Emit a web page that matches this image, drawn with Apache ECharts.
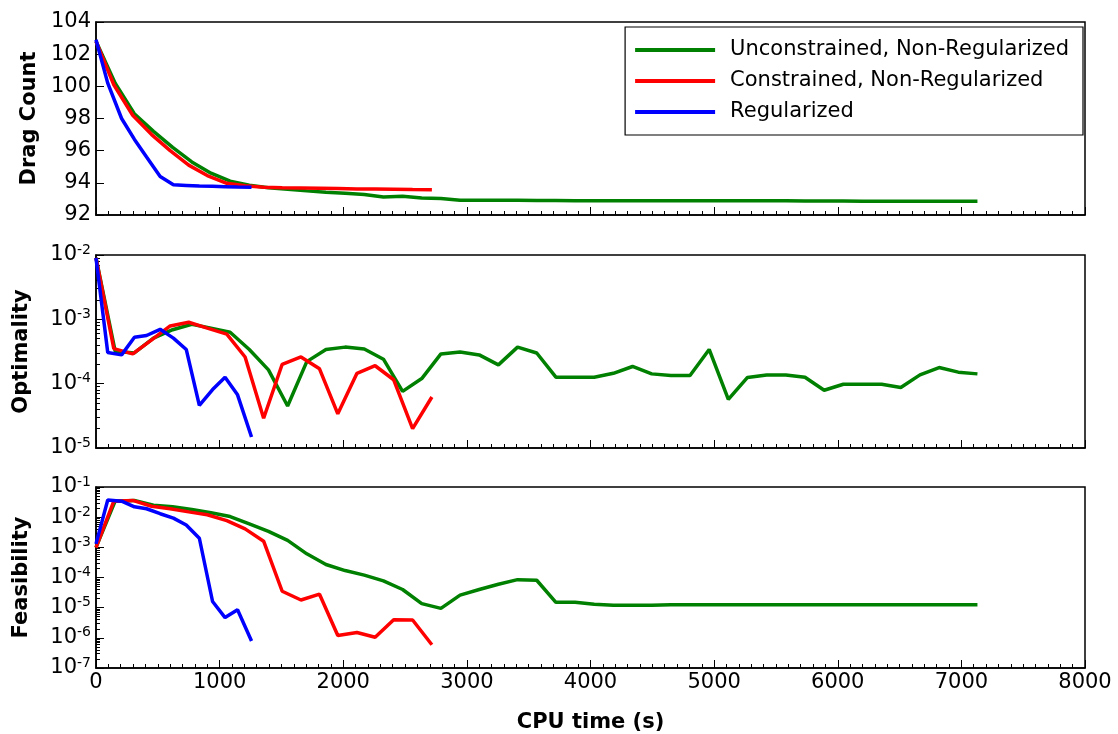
<!DOCTYPE html>
<html>
<head>
<meta charset="utf-8">
<script src="https://cdn.jsdelivr.net/npm/echarts@6/dist/echarts.min.js"></script>
<style>
html,body{margin:0;padding:0;background:#fff;}
#chart{width:1118px;height:734px;}
</style>
</head>
<body>
<div id="chart"></div>
<script>
// ---- Data ----
const seriesNames = ['Unconstrained, Non-Regularized', 'Constrained, Non-Regularized', 'Regularized'];
const seriesColors = ['#008000', '#ff0000', '#0000ff'];

const xTicks = [0, 1000, 2000, 3000, 4000, 5000, 6000, 7000, 8000];

// Unconstrained, Non-Regularized (green)
const greenTime = [0, 155, 310, 465, 620, 775, 930, 1085, 1240, 1395, 1550, 1705, 1860, 2015, 2170, 2325, 2480, 2635, 2790, 2945, 3100, 3255, 3410, 3565, 3720, 3875, 4030, 4185, 4340, 4495, 4650, 4805, 4960, 5115, 5270, 5425, 5580, 5735, 5890, 6045, 6200, 6355, 6510, 6665, 6820, 6975, 7130];
const greenDrag = [102.8, 100.2, 98.3, 97.2, 96.2, 95.3, 94.6, 94.1, 93.85, 93.7, 93.6, 93.5, 93.42, 93.35, 93.28, 93.12, 93.16, 93.05, 93.03, 92.92, 92.92, 92.91, 92.91, 92.9, 92.9, 92.89, 92.89, 92.88, 92.88, 92.88, 92.88, 92.88, 92.88, 92.88, 92.88, 92.88, 92.88, 92.87, 92.87, 92.87, 92.86, 92.86, 92.85, 92.85, 92.85, 92.85, 92.85];
const greenOpt = [9e-3, 3.2e-4, 3.0e-4, 5.1e-4, 6.9e-4, 8.4e-4, 7.3e-4, 6.3e-4, 3.4e-4, 1.64e-4, 4.5e-5, 2.2e-4, 3.4e-4, 3.7e-4, 3.45e-4, 2.4e-4, 7.6e-5, 1.2e-4, 2.9e-4, 3.1e-4, 2.8e-4, 1.96e-4, 3.7e-4, 3.0e-4, 1.26e-4, 1.26e-4, 1.26e-4, 1.45e-4, 1.85e-4, 1.42e-4, 1.34e-4, 1.34e-4, 3.4e-4, 5.7e-5, 1.25e-4, 1.36e-4, 1.36e-4, 1.26e-4, 7.9e-5, 9.8e-5, 9.8e-5, 9.8e-5, 8.7e-5, 1.37e-4, 1.78e-4, 1.51e-4, 1.42e-4];
const greenFeas = [1e-3, 3.4e-2, 3.6e-2, 2.5e-2, 2.2e-2, 1.8e-2, 1.4e-2, 1.05e-2, 6.0e-3, 3.4e-3, 1.7e-3, 6.1e-4, 2.7e-4, 1.7e-4, 1.2e-4, 7.7e-5, 4.0e-5, 1.36e-5, 9.5e-6, 2.6e-5, 4.0e-5, 6.0e-5, 8.5e-5, 8.1e-5, 1.5e-5, 1.5e-5, 1.3e-5, 1.2e-5, 1.2e-5, 1.2e-5, 1.25e-5, 1.25e-5, 1.25e-5, 1.25e-5, 1.25e-5, 1.25e-5, 1.25e-5, 1.25e-5, 1.25e-5, 1.25e-5, 1.25e-5, 1.25e-5, 1.25e-5, 1.25e-5, 1.25e-5, 1.25e-5, 1.25e-5];

// Constrained, Non-Regularized (red)
const redTime = [0, 144, 297, 450, 600, 750, 900, 1058, 1206, 1356, 1506, 1658, 1808, 1956, 2111, 2258, 2408, 2561, 2717];
const redDrag = [102.8, 100.1, 98.2, 97.0, 96.0, 95.1, 94.45, 93.97, 93.82, 93.73, 93.7, 93.68, 93.66, 93.64, 93.62, 93.61, 93.6, 93.58, 93.57];
const redOpt = [9e-3, 3.5e-4, 2.9e-4, 4.8e-4, 7.9e-4, 9.0e-4, 7.3e-4, 5.9e-4, 2.6e-4, 2.9e-5, 2.0e-4, 2.6e-4, 1.7e-4, 3.4e-5, 1.45e-4, 1.9e-4, 1.15e-4, 2.0e-5, 6.2e-5];
const redFeas = [9.8e-4, 3.4e-2, 3.6e-2, 2.3e-2, 1.9e-2, 1.5e-2, 1.2e-2, 7.7e-3, 4.1e-3, 1.6e-3, 3.5e-5, 1.8e-5, 2.8e-5, 1.2e-6, 1.5e-6, 1.05e-6, 4.0e-6, 3.9e-6, 5.9e-7];

// Regularized (blue)
const blueTime = [0, 95, 207, 311, 409, 519, 626, 730, 836, 943, 1044, 1145, 1258];
const blueDrag = [102.9, 100.2, 98.0, 96.7, 95.6, 94.4, 93.88, 93.84, 93.8, 93.78, 93.76, 93.74, 93.72];
const blueOpt = [9e-3, 3.05e-4, 2.8e-4, 5.25e-4, 5.6e-4, 7.0e-4, 5.1e-4, 3.4e-4, 4.6e-5, 8.1e-5, 1.26e-4, 6.7e-5, 1.48e-5];
const blueFeas = [1.3e-3, 3.7e-2, 3.4e-2, 2.2e-2, 1.9e-2, 1.3e-2, 9.3e-3, 5.5e-3, 2.0e-3, 1.6e-5, 4.7e-6, 8.5e-6, 7.9e-7];

const panelTitles = ['Drag Count', 'Optimality', 'Feasibility'];

// ---- Chart ----
const FONT = 'DejaVu Sans';
const chart = echarts.init(document.getElementById('chart'), null, {renderer: 'canvas'});

function zip(t, v) { return t.map((x, i) => [x, v[i]]); }

const runs = [
  {time: greenTime, vals: [greenDrag, greenOpt, greenFeas]},
  {time: redTime, vals: [redDrag, redOpt, redFeas]},
  {time: blueTime, vals: [blueDrag, blueOpt, blueFeas]}
];

const gridTops = [22, 255, 487];
const grids = gridTops.map(t => ({
  left: 96, right: 33, top: t, height: 193,
  show: true, borderColor: '#000', borderWidth: 1.5, backgroundColor: 'transparent'
}));

const xAxes = gridTops.map((t, i) => ({
  type: 'value', gridIndex: i, min: xTicks[0], max: xTicks[xTicks.length - 1], interval: 1000,
  name: i === 2 ? 'CPU time (s)' : '',
  nameLocation: 'middle', nameGap: 44,
  nameTextStyle: {fontFamily: FONT, fontWeight: 'bold', fontSize: 21, color: '#000'},
  axisLine: {show: true, lineStyle: {color: '#000', width: 1.5}},
  axisTick: {show: true, inside: true, length: 8, lineStyle: {color: '#000', width: 1}},
  minorTick: {show: true, splitNumber: 10, length: 4, lineStyle: {color: '#000', width: 1}},
  splitLine: {show: false},
  minorSplitLine: {show: false},
  axisLabel: {show: i === 2, fontFamily: FONT, fontSize: 21, color: '#000', margin: 4,
    formatter: v => String(v)}
}));

function logLabel(v) {
  const e = Math.round(Math.log10(v));
  return '{b|10}{s|' + e + '}';
}
const logRich = {
  b: {fontFamily: FONT, fontSize: 21, color: '#000', lineHeight: 24},
  s: {fontFamily: FONT, fontSize: 14, color: '#000', verticalAlign: 'top', lineHeight: 24, padding: [0, 0, 10, 0]}
};

const yAxes = [
  {
    type: 'value', gridIndex: 0, min: 92, max: 104, interval: 2,
    name: panelTitles[0], nameLocation: 'middle', nameGap: 54,
    nameTextStyle: {fontFamily: FONT, fontWeight: 'bold', fontSize: 21, color: '#000'},
    axisLine: {show: true, lineStyle: {color: '#000', width: 1.5}},
    axisTick: {show: true, inside: true, length: 8, lineStyle: {color: '#000'}},
    splitLine: {show: false},
    axisLabel: {fontFamily: FONT, fontSize: 21, color: '#000', margin: 5}
  },
  {
    type: 'log', logBase: 10, gridIndex: 1, min: 1e-5, max: 1e-2,
    name: panelTitles[1], nameLocation: 'middle', nameGap: 64,
    nameTextStyle: {fontFamily: FONT, fontWeight: 'bold', fontSize: 21, color: '#000'},
    axisLine: {show: true, lineStyle: {color: '#000', width: 1.5}},
    axisTick: {show: true, inside: true, length: 8, lineStyle: {color: '#000'}},
    minorTick: {show: true, splitNumber: 9, length: 4, lineStyle: {color: '#000'}},
    splitLine: {show: false},
    minorSplitLine: {show: false},
    axisLabel: {formatter: logLabel, rich: logRich, margin: 5}
  },
  {
    type: 'log', logBase: 10, gridIndex: 2, min: 1e-7, max: 1e-1,
    name: panelTitles[2], nameLocation: 'middle', nameGap: 64,
    nameTextStyle: {fontFamily: FONT, fontWeight: 'bold', fontSize: 21, color: '#000'},
    axisLine: {show: true, lineStyle: {color: '#000', width: 1.5}},
    axisTick: {show: true, inside: true, length: 8, lineStyle: {color: '#000'}},
    minorTick: {show: true, splitNumber: 9, length: 4, lineStyle: {color: '#000'}},
    splitLine: {show: false},
    minorSplitLine: {show: false},
    axisLabel: {formatter: logLabel, rich: logRich, margin: 5}
  }
];

const series = [];
for (let p = 0; p < 3; p++) {
  runs.forEach((r, k) => {
    series.push({
      type: 'line', name: seriesNames[k], xAxisIndex: p, yAxisIndex: p,
      data: zip(r.time, r.vals[p]),
      symbol: 'none', showSymbol: false,
      lineStyle: {color: seriesColors[k], width: 3.5},
      itemStyle: {color: seriesColors[k]},
      emphasis: {disabled: true},
      z: 2 + k
    });
  });
}

chart.setOption({
  animation: false,
  backgroundColor: '#fff',
  grid: grids,
  legend: {
    data: seriesNames,
    orient: 'vertical',
    right: 35, top: 27,
    backgroundColor: '#fff',
    borderColor: '#000', borderWidth: 1.2,
    padding: [11, 14, 11, 10],
    icon: 'rect',
    itemWidth: 80, itemHeight: 4, itemGap: 7,
    textStyle: {fontFamily: FONT, fontSize: 21, color: '#000', lineHeight: 24, padding: [0, 0, 0, 10]},
    selectedMode: false,
    z: 10
  },
  xAxis: xAxes,
  yAxis: yAxes,
  series: series
});
</script>
</body>
</html>
